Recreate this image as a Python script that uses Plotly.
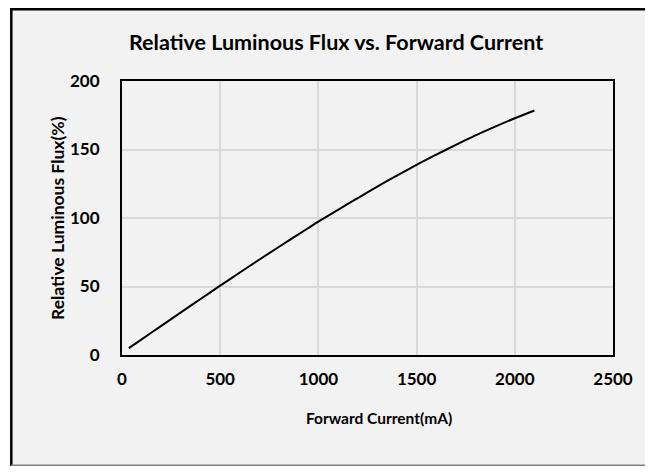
import plotly.graph_objects as go

# Data
current_ma = [35, 100, 200, 300, 400, 500, 600, 700, 800, 900, 1000,
              1100, 1200, 1300, 1400, 1500, 1600, 1700, 1800, 1900, 2000, 2100]
rel_flux_pct = [5, 11.4, 21.3, 31.1, 40.9, 50.6, 60.2, 69.7, 79.0, 88.2, 97.4,
                106.0, 114.5, 122.9, 130.9, 138.8, 146.2, 153.4, 160.3, 166.7, 172.8, 178.5]

x_ticks = [0, 500, 1000, 1500, 2000, 2500]
y_ticks = [0, 50, 100, 150, 200]

# The page keeps its default 8px body margin, so the figure is sized to fit
# exactly inside a 653x474 window and positions are given in window pixels.
PAGE_W, PAGE_H, OFF = 653, 474, 8
W, H = PAGE_W - 2 * OFF, PAGE_H - 2 * OFF
FONT = "Lato"

def px(x):
    return min(max((x - OFF) / W, 0), 1)

def py(y):
    return min(max(1 - (y - OFF) / H, 0), 1)

fig = go.Figure()
fig.add_trace(go.Scatter(
    x=current_ma, y=rel_flux_pct, mode="lines",
    line=dict(color="black", width=2, shape="spline", smoothing=0.8),
    hoverinfo="skip", showlegend=False,
))

shapes = [
    dict(type="rect", xref="paper", yref="paper", x0=px(11), x1=1, y0=0, y1=1,
         fillcolor="#f2f2f2", line=dict(width=0), layer="below"),
    dict(type="line", xref="paper", yref="paper", x0=px(11.3), x1=px(11.3), y0=0, y1=1,
         line=dict(color="black", width=2.5)),
    dict(type="line", xref="paper", yref="paper", x0=px(10), x1=1, y0=py(9.2), y1=py(9.2),
         line=dict(color="black", width=2.5)),
    dict(type="line", xref="paper", yref="paper", x0=px(11), x1=1, y0=py(465.3), y1=py(465.3),
         line=dict(color="#808080", width=1.5)),
]

annotations = [
    dict(text="<b>Relative Luminous Flux vs. Forward Current</b>", xref="paper", yref="paper",
         x=px(336), y=py(42), xanchor="center", yanchor="middle", showarrow=False,
         font=dict(family=FONT, size=21.5, color="black")),
    dict(text="<b>Forward Current(mA)</b>", xref="paper", yref="paper",
         x=px(379), y=py(418), xanchor="center", yanchor="middle", showarrow=False,
         font=dict(family=FONT, size=15.5, color="black")),
    dict(text="<b>Relative Luminous Flux(%)</b>", xref="paper", yref="paper",
         x=px(57), y=py(218), xanchor="center", yanchor="middle", showarrow=False, textangle=-90,
         font=dict(family=FONT, size=17.5, color="black")),
]

fig.update_layout(
    width=W, height=H,
    margin=dict(l=0, r=0, t=0, b=0),
    paper_bgcolor="white",
    plot_bgcolor="rgba(0,0,0,0)",
    shapes=shapes,
    annotations=annotations,
    xaxis=dict(
        domain=[px(122), px(613)], range=[0, 2500], tickvals=x_ticks,
        ticktext=[f"<b>{v}</b>" for v in x_ticks],
        showgrid=True, gridcolor="#d9d9d9", gridwidth=1.5, zeroline=False,
        showline=True, mirror=True, linecolor="black", linewidth=2,
        ticks="outside", ticklen=8, tickcolor="rgba(0,0,0,0)",
        tickfont=dict(family=FONT, size=17, color="black"),
        automargin=False,
    ),
    yaxis=dict(
        domain=[py(355), py(81)], range=[0, 200], tickvals=y_ticks,
        ticktext=[f"<b>{v}</b>" for v in y_ticks],
        showgrid=True, gridcolor="#d9d9d9", gridwidth=1.5, zeroline=False,
        showline=True, mirror=True, linecolor="black", linewidth=2,
        ticks="outside", ticklen=17, tickcolor="rgba(0,0,0,0)",
        tickfont=dict(family=FONT, size=17, color="black"),
        automargin=False,
    ),
)

fig.write_html("out.html", config={"displayModeBar": False})
